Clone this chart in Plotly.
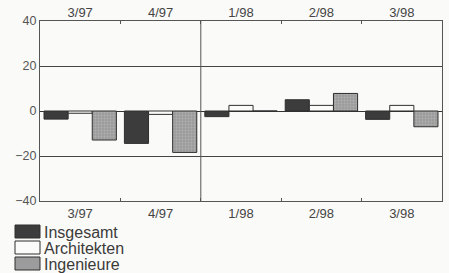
import plotly.graph_objects as go

categories = ["3/97", "4/97", "1/98", "2/98", "3/98"]
insgesamt = [-3.6, -14.4, -2.5, 5.0, -3.7]
architekten = [-1.0, -1.5, 2.5, 2.5, 2.5]
ingenieure = [-12.9, -18.4, 0.0, 7.8, -7.0]
series_names = ["Insgesamt", "Architekten", "Ingenieure"]
fill_colors = ["#3c3c3c", "#fbfbf9", "#9c9c9c"]
y_ticks = [-40, -20, 0, 20, 40]
y_ticklabels = ["\u221240", "\u221220", "0", "20", "40"]

FONT = "Liberation Sans, Arial, sans-serif"
BG = "#fafaf8"
LINE = "#555555"

fig = go.Figure()
for name, vals, col in zip(series_names, [insgesamt, architekten, ingenieure], fill_colors):
    marker = dict(color=col, line=dict(color="#2e2e2e", width=1))
    if name == "Ingenieure":
        marker["pattern"] = dict(shape=".", fgcolor="#c4c4c4", bgcolor=col, size=3, solidity=0.3)
    fig.add_trace(go.Bar(x=categories, y=vals, name=name, marker=marker, showlegend=False))

# invisible trace for top axis labels
fig.add_trace(go.Scatter(x=categories, y=[0] * len(categories), xaxis="x2", mode="markers",
                         marker=dict(opacity=0), showlegend=False, hoverinfo="skip"))

fig.update_layout(
    width=449, height=273,
    margin=dict(l=40, r=7, t=21, b=72, autoexpand=False),
    paper_bgcolor=BG, plot_bgcolor=BG,
    barmode="group", bargap=0.1, bargroupgap=0,
    font=dict(family=FONT, size=12, color="#444"),
    xaxis=dict(type="category", categoryarray=categories, range=[-0.5, 4.5],
               showline=True, linecolor=LINE, linewidth=1, mirror=True, automargin=False,
               ticks="inside", tickson="boundaries", ticklen=3, tickcolor=LINE,
               showgrid=False, tickfont=dict(size=13, color="#444")),
    xaxis2=dict(type="category", categoryarray=categories, range=[-0.5, 4.5],
                overlaying="x", side="top", showline=False, automargin=False,
                ticks="inside", tickson="boundaries", ticklen=3, tickcolor=LINE,
                showgrid=False, tickfont=dict(size=13, color="#444")),
    yaxis=dict(range=[-40, 40], tickvals=y_ticks, ticktext=y_ticklabels,
               showline=True, linecolor=LINE, linewidth=1, mirror=True, automargin=False,
               showgrid=True, gridcolor="#444", gridwidth=1,
               zeroline=True, zerolinecolor="#333", zerolinewidth=1,
               ticks="", tickfont=dict(size=12.5, color="#555")),
)

# vertical separator between 1997 and 1998
fig.add_shape(type="line", xref="x", yref="paper", x0=1.5, x1=1.5, y0=0, y1=1,
              line=dict(color=LINE, width=1))

# custom legend with wide patches
legend_rows_px = [225, 241, 257]
plot_top, plot_bottom = 21.0, 201.0
def py(px):
    return (plot_bottom - px) / (plot_bottom - plot_top)
plot_left, plot_right = 40.0, 442.0
def pxx(px):
    return (px - plot_left) / (plot_right - plot_left)

for i, (name, col) in enumerate(zip(series_names, fill_colors)):
    top = legend_rows_px[i]
    fig.add_shape(type="rect", xref="paper", yref="paper",
                  x0=pxx(15), x1=pxx(40), y0=py(top + 13), y1=py(top),
                  line=dict(color="#2e2e2e", width=1), fillcolor=col)
    fig.add_annotation(xref="paper", yref="paper", x=pxx(42), y=py(top + 7),
                       text=name, showarrow=False, xanchor="left", yanchor="middle",
                       font=dict(family=FONT, size=16, color="#3a3a3a"))

fig.write_html("out.html", config={"displayModeBar": False},
               post_script="document.body.style.margin='0';document.body.style.overflow='hidden';document.body.style.background='%s';" % BG)
